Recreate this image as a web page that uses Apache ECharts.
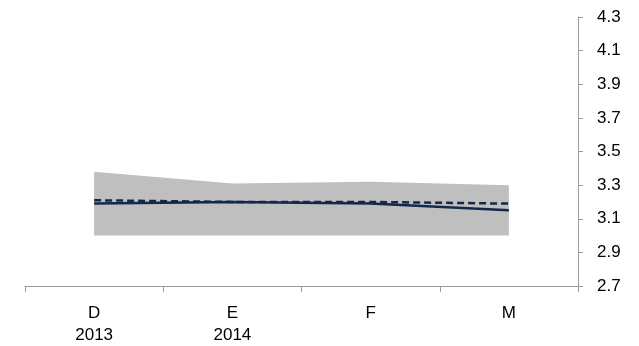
<!DOCTYPE html>
<html><head><meta charset="utf-8">
<script src="https://cdn.jsdelivr.net/npm/echarts@6/dist/echarts.min.js"></script>
<style>html,body{margin:0;padding:0;background:#fff}#c{width:639px;height:346px}</style>
</head><body><div id="c"></div>
<script>
const categories = ['D\n2013', 'E\n2014', 'F', 'M'];
const bandLow = [3.0, 3.0, 3.0, 3.0];
const bandHigh = [3.38, 3.31, 3.32, 3.30];
const solidLine = [3.19, 3.20, 3.19, 3.15];
const dashedLine = [3.21, 3.20, 3.20, 3.19];
const yTicks = [2.7, 2.9, 3.1, 3.3, 3.5, 3.7, 3.9, 4.1, 4.3];

const bandDiff = bandHigh.map((v, i) => +(v - bandLow[i]).toFixed(4));
const font = "'Liberation Sans', sans-serif";
const chart = echarts.init(document.getElementById('c'));
chart.setOption({
  animation: false,
  grid: { left: 25, right: 61, top: 17, bottom: 60 },
  xAxis: {
    type: 'category', data: categories, boundaryGap: true,
    axisLine: { lineStyle: { color: '#9a9a9a', width: 1 } },
    axisTick: { show: true, length: 6, lineStyle: { color: '#9a9a9a' } },
    axisLabel: { color: '#000', fontSize: 17, fontFamily: font, margin: 16, lineHeight: 22 },
    splitLine: { show: false }
  },
  yAxis: {
    type: 'value', position: 'right', min: 2.7, max: 4.3,
    axisLine: { show: true, lineStyle: { color: '#9a9a9a' } },
    axisTick: { show: true, length: 5, inside: false, customValues: yTicks, lineStyle: { color: '#9a9a9a' } },
    axisLabel: { color: '#000', fontSize: 17, fontFamily: font, margin: 19, customValues: yTicks,
      formatter: v => v.toFixed(1) },
    splitLine: { show: false }
  },
  series: [
    { type: 'line', data: bandLow, stack: 'band', symbol: 'none', lineStyle: { opacity: 0 }, silent: true },
    { type: 'line', data: bandDiff, stack: 'band', symbol: 'none', lineStyle: { opacity: 0 },
      areaStyle: { color: '#bfbfbf', opacity: 1 }, silent: true },
    { type: 'line', data: solidLine, symbol: 'none', lineStyle: { color: '#14284b', width: 2.5 } },
    { type: 'line', data: dashedLine, symbol: 'none', lineStyle: { color: '#14284b', width: 2.5, type: [7, 4] } }
  ]
});
</script></body></html>
